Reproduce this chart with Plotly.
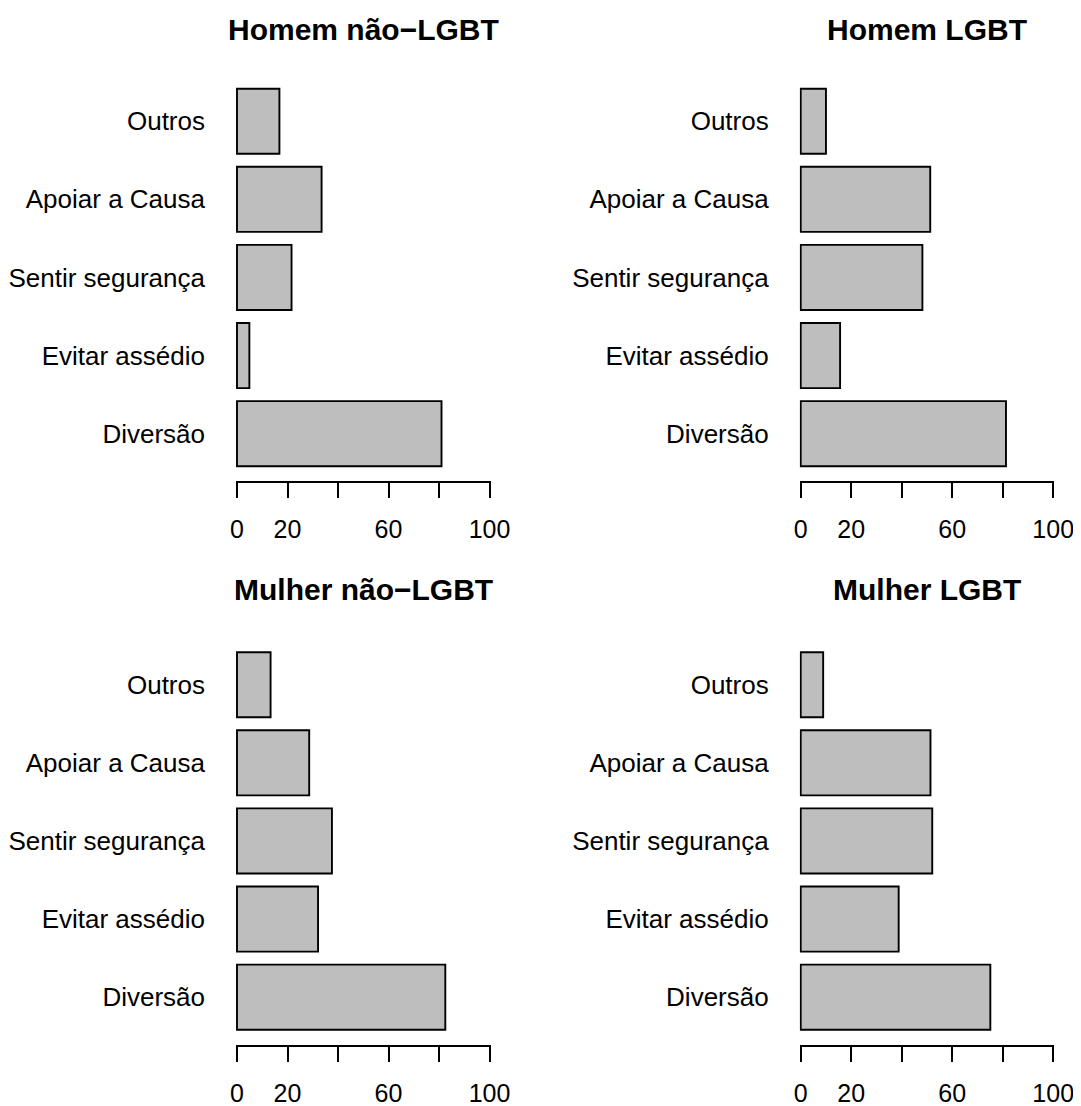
import plotly.graph_objects as go

# ---- data (bottom -> top, as in the chart) ----
categories = ["Diversão", "Evitar assédio", "Sentir segurança", "Apoiar a Causa", "Outros"]
homem_nao_lgbt = [81.0, 4.9, 21.6, 33.5, 16.8]
homem_lgbt = [81.3, 15.6, 48.2, 51.3, 10.0]
mulher_nao_lgbt = [82.5, 32.1, 37.6, 28.6, 13.3]
mulher_lgbt = [75.1, 38.8, 52.1, 51.4, 8.9]

panel_titles = ["Homem não\u2212LGBT", "Homem LGBT", "Mulher não\u2212LGBT", "Mulher LGBT"]
panel_values = [homem_nao_lgbt, homem_lgbt, mulher_nao_lgbt, mulher_lgbt]

tick_vals = [0, 20, 40, 60, 80, 100]
tick_text = ["0", "20", "", "60", "", "100"]

# ---- layout geometry (pixels, in screenshot coordinates) ----
W, H = 1081, 1106
PAGE_OFF = 8                      # the page places the figure 8 px in from the corner
FONT = "Liberation Sans, Arial, Helvetica, sans-serif"
PPU = 2.525                       # pixels per x unit
x0_left, x0_right = 237.0, 800.7  # pixel of x = 0
XPAD = 0.4
top_y0, top_y1 = 73.6, 481.3      # plot region of top row (px from top)
ROW_OFF = 563.5
title_y = [29.2, 589.2]

def fx(p):
    return (p - PAGE_OFF) / W

def fy(p):
    return 1 - (p - PAGE_OFF) / H

def xdom(x0):
    return [fx(x0 - XPAD * PPU), fx(x0 + (100 + XPAD) * PPU)]

def ydom(a, b):
    return [fy(b), fy(a)]

domains = [
    (xdom(x0_left), ydom(top_y0, top_y1)),
    (xdom(x0_right), ydom(top_y0, top_y1)),
    (xdom(x0_left), ydom(top_y0 + ROW_OFF, top_y1 + ROW_OFF)),
    (xdom(x0_right), ydom(top_y0 + ROW_OFF, top_y1 + ROW_OFF)),
]

fig = go.Figure()
layout = dict(
    width=W, height=H,
    margin=dict(l=0, r=0, t=0, b=0, pad=0, autoexpand=False),
    paper_bgcolor="white", plot_bgcolor="white",
    showlegend=False,
    bargap=0.2 / 1.2,
    font=dict(family=FONT, color="black", size=25),
    annotations=[],
)

for i, (vals, title) in enumerate(zip(panel_values, panel_titles)):
    n = "" if i == 0 else str(i + 1)
    fig.add_trace(go.Bar(
        x=vals, y=categories, orientation="h",
        marker=dict(color="#BEBEBE", line=dict(color="black", width=1.9)),
        xaxis="x" + n, yaxis="y" + n, hoverinfo="x+y",
    ))
    xd, yd = domains[i]
    layout["xaxis" + n] = dict(
        domain=xd, anchor="y" + n, range=[-XPAD, 100 + XPAD],
        tickmode="array", tickvals=tick_vals, ticktext=tick_text,
        ticks="outside", ticklen=15, tickwidth=1.8, tickcolor="black",
        showline=True, linecolor="black", linewidth=1.8,
        showgrid=False, zeroline=False, automargin=False,
        tickfont=dict(family=FONT, size=25, color="black"),
        ticklabelstandoff=10,
    )
    layout["yaxis" + n] = dict(
        domain=yd, anchor="x" + n, type="category",
        categoryorder="array", categoryarray=categories,
        range=[-0.61, 4.61], automargin=False,
        showline=False, showgrid=False, zeroline=False, ticks="",
        tickfont=dict(family=FONT, size=26, color="black"),
        ticklabelstandoff=30,
    )
    cx = (xd[0] + xd[1]) / 2
    cy = fy(title_y[i // 2])
    layout["annotations"].append(dict(
        text="<b>" + title + "</b>", x=cx, y=cy, xref="paper", yref="paper",
        xanchor="center", yanchor="middle", showarrow=False,
        font=dict(family=FONT, size=30, color="black"),
    ))

fig.update_layout(**layout)
fig.write_html("out.html")
